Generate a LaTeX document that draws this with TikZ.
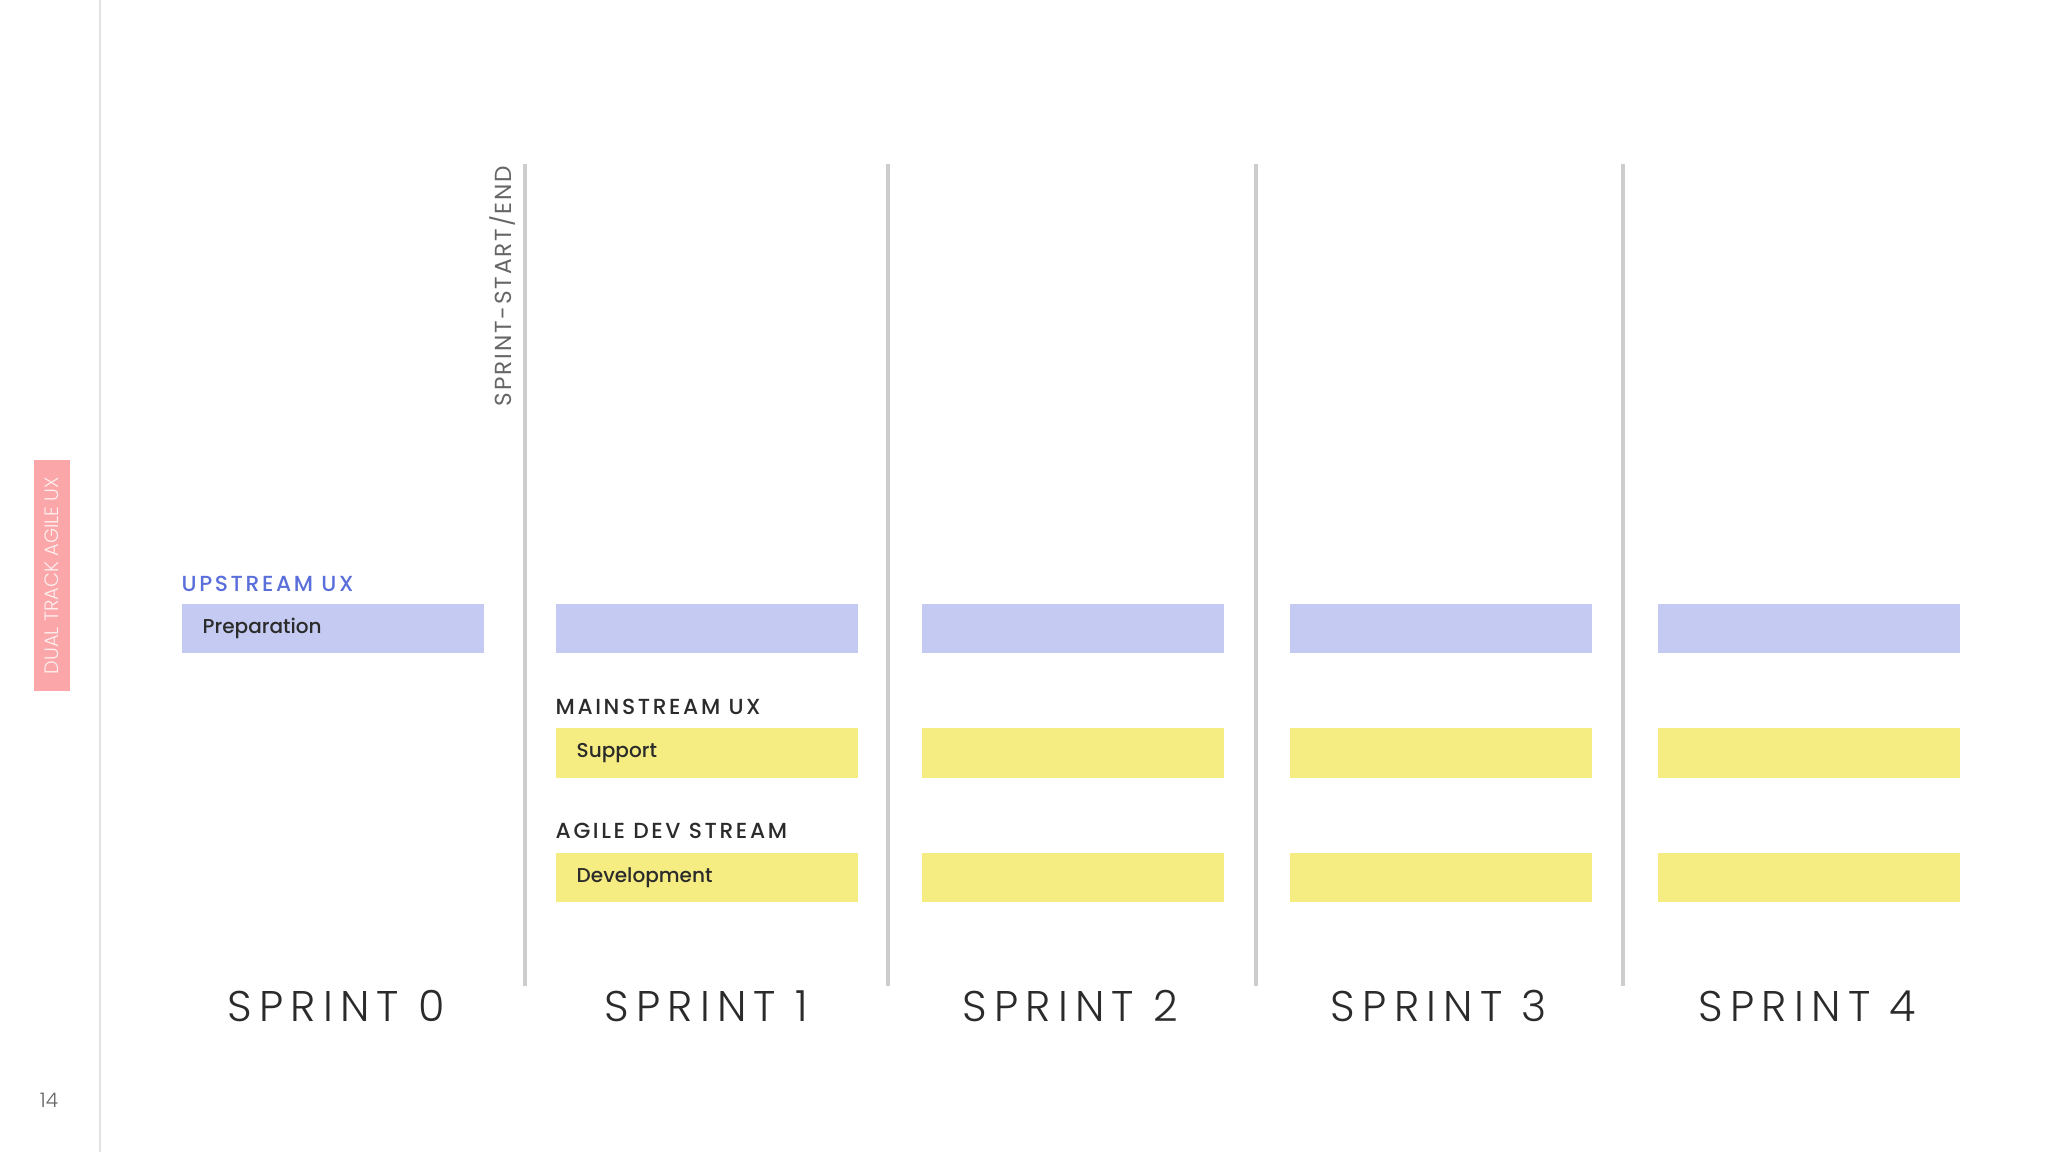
\documentclass[tikz,border=0pt]{standalone}
\usepackage{fontspec}
\setmainfont{Poppins}
\newfontfamily\sprintfont{Poppins Light}[LetterSpace=17]
\newfontfamily\headfont{Poppins Medium}[LetterSpace=12]
\newfontfamily\taskfont{Poppins Medium}
\newfontfamily\vertfont{Poppins}[LetterSpace=8]
\newfontfamily\tagfont{Poppins Light}
\definecolor{upblue}{HTML}{5B6FDA}
\definecolor{prepfill}{HTML}{C5CAF2}
\definecolor{taskyellow}{HTML}{F5EC82}
\definecolor{darktext}{HTML}{2B2B2B}
\definecolor{gridgray}{HTML}{CDCDCD}
\definecolor{rulegray}{HTML}{E2E2E2}
\definecolor{tagpink}{HTML}{FBA6A9}
\definecolor{tagtext}{HTML}{FFF0F0}

\begin{document}
\begin{tikzpicture}[x=0.01cm, y=-0.01cm,
    taskbox/.style={anchor=west, text width=2.6cm, minimum height=0.49cm,
        inner xsep=0.21cm, inner ysep=0pt, align=left, text=darktext,
        font=\taskfont\fontsize{5.7}{7}\selectfont},
    prepbox/.style={taskbox, fill=prepfill},
    yellowbox/.style={taskbox, fill=taskyellow},
    headlabel/.style={anchor=base west, inner sep=0pt, text=darktext,
        font=\headfont\fontsize{6.2}{7}\selectfont},
    sprintlabel/.style={anchor=base, inner sep=0pt, text=darktext,
        font=\sprintfont\fontsize{12.2}{14}\selectfont},
    sprintline/.style={gridgray, line width=1.3pt}]
    \useasboundingbox (0,0) rectangle (2048,1152);
    \fill[white] (0,0) rectangle (2048,1152);

    % side rule, tag and page number
    \draw[rulegray, line width=0.6pt] (100,0) -- (100,1152);
    \node[fill=tagpink, rotate=90, minimum width=2.31cm, minimum height=0.36cm,
        inner sep=0pt, text=tagtext, font=\tagfont\fontsize{5.5}{7}\selectfont]
        (tag) at (52,575.5) {DUAL TRACK AGILE UX};
    \node[anchor=base, inner sep=0pt, text=black!60,
        font=\tagfont\fontsize{5.7}{7}\selectfont] (pagenum) at (49,1107) {14};

    % sprint boundaries
    \foreach \x in {525,888,1256,1623}
        \draw[sprintline] (\x,164) -- (\x,986);
    \node[rotate=90, inner sep=0pt, text=black!60,
        font=\vertfont\fontsize{6.6}{8}\selectfont] (startend) at (503,286) {SPRINT-START/END};

    % stream headers
    \node[headlabel, text=upblue] (upstream) at (181,591) {UPSTREAM UX};
    \node[headlabel] (mainstream) at (555,714) {MAINSTREAM UX};
    \node[headlabel] (devstream) at (555,838) {AGILE DEV STREAM};

    % tasks
    \node[prepbox] (prep0) at (181,628.5) {Preparation};
    \node[prepbox] (prep1) at (555,628.5) {};
    \node[yellowbox] (support1) at (555,753) {Support};
    \node[yellowbox] (dev1) at (555,877.5) {Development};
    \foreach \n/\x in {2/921,3/1289,4/1657} {
        \node[prepbox] (prep\n) at (\x,628.5) {};
        \node[yellowbox] (support\n) at (\x,753) {};
        \node[yellowbox] (dev\n) at (\x,877.5) {};
    }

    % sprint names
    \foreach \n/\x in {0/336,1/706,2/1070,3/1439,4/1807}
        \node[sprintlabel] (sprint\n) at (\x,1021) {SPRINT \n};
\end{tikzpicture}
\end{document}
